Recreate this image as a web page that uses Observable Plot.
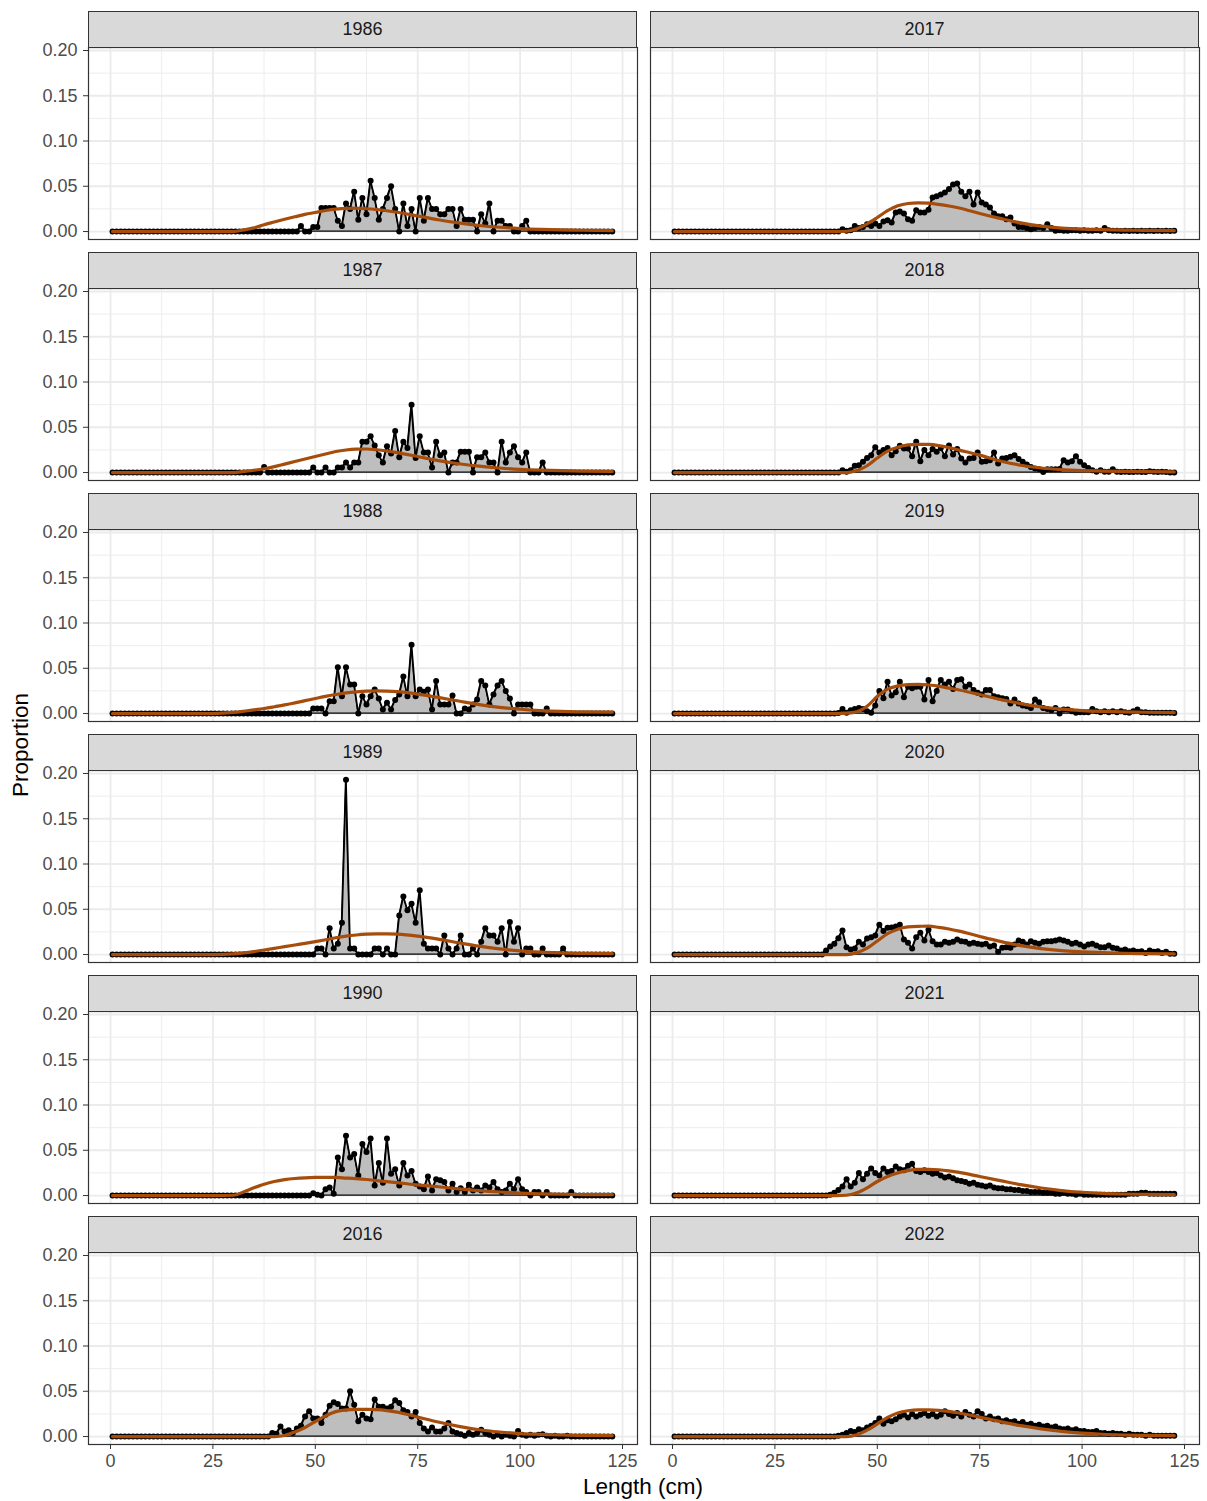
<!DOCTYPE html>
<html><head><meta charset="utf-8">
<script src="https://cdn.jsdelivr.net/npm/d3@7"></script>
<script src="https://cdn.jsdelivr.net/npm/@observablehq/plot@0.6"></script>
<style>
html,body{margin:0;padding:0;background:#fff;}
#fig{position:relative;width:1207px;height:1501px;font-family:"Liberation Sans",Arial,sans-serif;overflow:hidden;background:#fff}
.strip{position:absolute;background:#d9d9d9;border:1.1px solid #333;box-sizing:border-box;display:flex;align-items:center;justify-content:center;font-size:18px;color:#1a1a1a}
.panel{position:absolute}
.ytitle{position:absolute;left:21px;top:745px;transform:translate(-50%,-50%) rotate(-90deg);font-size:22.5px;color:#000;white-space:nowrap}
.xtitle{position:absolute;left:643px;top:1487px;transform:translate(-50%,-50%);font-size:22.5px;color:#000;white-space:nowrap}
</style></head><body><div id="fig"></div>
<script>
// ---- categories / ticks ----
const lengths = [0.5,1.5,2.5,3.5,4.5,5.5,6.5,7.5,8.5,9.5,10.5,11.5,12.5,13.5,14.5,15.5,16.5,17.5,18.5,19.5,20.5,21.5,22.5,23.5,24.5,25.5,26.5,27.5,28.5,29.5,30.5,31.5,32.5,33.5,34.5,35.5,36.5,37.5,38.5,39.5,40.5,41.5,42.5,43.5,44.5,45.5,46.5,47.5,48.5,49.5,50.5,51.5,52.5,53.5,54.5,55.5,56.5,57.5,58.5,59.5,60.5,61.5,62.5,63.5,64.5,65.5,66.5,67.5,68.5,69.5,70.5,71.5,72.5,73.5,74.5,75.5,76.5,77.5,78.5,79.5,80.5,81.5,82.5,83.5,84.5,85.5,86.5,87.5,88.5,89.5,90.5,91.5,92.5,93.5,94.5,95.5,96.5,97.5,98.5,99.5,100.5,101.5,102.5,103.5,104.5,105.5,106.5,107.5,108.5,109.5,110.5,111.5,112.5,113.5,114.5,115.5,116.5,117.5,118.5,119.5,120.5,121.5,122.5];
const fitLengths = [0.5,25,30,32.5,35,37.5,40,42.5,45,47.5,50,52.5,55,57.5,60,62.5,65,67.5,70,75,80,85,90,95,100,105,110,115,122.5];
const xTicks = [0,25,50,75,100,125];
const xMinor = [12.5,37.5,62.5,87.5,112.5];
const yTicks = [0,0.05,0.10,0.15,0.20];
const yMinor = [0.025,0.075,0.125,0.175];
const leftYears = ["1986","1987","1988","1989","1990","2016"];
const rightYears = ["2017","2018","2019","2020","2021","2022"];

// ---- observed proportions (one value per length bin) ----
const obs1986 = [0,0,0,0,0,0,0,0,0,0, 0,0,0,0,0,0,0,0,0,0, 0,0,0,0,0,0,0,0,0,0, 0,0,0,0,0,0,0,0,0,0,
 0,0,0,0,0,0,.006,0,0,.005,
 .005,.026,.026,.026,.026,.012,.006,.031,.025,.044,
 .013,.037,.019,.056,.037,.013,.025,.037,.050,.025,
 0,.031,.006,.025,0,.037,.012,.037,.025,.025,
 .019,.019,.025,.025,.006,.025,.013,.013,.013,0,
 .019,.009,.031,0,.012,.012,.006,.006,0,0,
 .006,.012,0,0,0,0,0,0,0,0,
 0,0,0,0,0,0,0,0,0,0, 0,0,0];
const obs1987 = [0,0,0,0,0,0,0,0,0,0, 0,0,0,0,0,0,0,0,0,0, 0,0,0,0,0,0,0,0,0,0,
 0,0,0,0,0,0,0,.006,0,0,
 0,0,0,0,0,0,0,0,0,.0055,
 0,0,.0055,0,0,.0055,.0055,.011,.0055,.011,
 .011,.034,.034,.040,.030,.019,.011,.029,.021,.046,
 .017,.034,.027,.075,.016,.040,.022,.022,.0055,.034,
 .019,.022,0,.011,.011,.023,.023,.023,0,.017,
 .017,.022,.011,.011,0,.034,.011,.022,.029,.017,
 .011,.022,0,0,0,.011,0,0,0,0,
 0,0,0,0,0,0,0,0,0,0, 0,0,0];
const obs1988 = [0,0,0,0,0,0,0,0,0,0, 0,0,0,0,0,0,0,0,0,0, 0,0,0,0,0,0,0,0,0,0, 0,0,0,0,0,0,0,0,0,0,
 0,0,0,0,0,0,0,0,0,.0055,
 .0055,.0055,0,.0135,.0135,.051,.019,.051,.032,.032,
 0,.019,.010,.019,.0265,.0165,.0045,.012,.0045,.015,
 .021,.041,.019,.076,.019,.0265,.024,.0265,.0045,.036,
 .010,.010,.010,.020,0,0,.0055,.0045,.010,.0155,
 .036,.031,.010,.021,.031,.036,.025,.0165,0,.010,
 .010,.010,.010,0,0,0,.0055,0,0,0,
 0,0,0,0,0,0,0,0,0,0, 0,0,0];
const obs1989 = [0,0,0,0,0,0,0,0,0,0, 0,0,0,0,0,0,0,0,0,0, 0,0,0,0,0,0,0,0,0,0, 0,0,0,0,0,0,0,0,0,0, 0,0,0,0,0,0,0,0,0,0,
 .0066,.0066,0,.029,.0066,.012,.035,.193,.0066,.0066,
 0,0,0,0,.0066,.0066,0,.0066,0,0,
 .043,.064,.049,.056,.035,.071,.012,.0066,.0066,.0066,
 0,.021,.0066,0,.0066,.021,0,0,.0066,0,
 .014,.029,.021,.021,.014,.029,0,.036,.014,.029,
 0,.0066,.0066,0,0,.0066,0,0,0,0,
 .0066,0,0,0,0,0,0,0,0,0, 0,0,0];
const obs1990 = [0,0,0,0,0,0,0,0,0,0, 0,0,0,0,0,0,0,0,0,0, 0,0,0,0,0,0,0,0,0,0, 0,0,0,0,0,0,0,0,0,0,
 0,0,0,0,0,0,0,0,0,.0026,
 .001,0,.007,.009,.002,.042,.029,.066,.042,.046,
 .022,.057,.048,.063,.011,.036,.014,.063,.024,.029,
 .011,.036,.022,.027,.013,.010,.007,.021,.0055,.018,
 .017,.015,.0055,.013,.004,.008,.004,.012,.0055,.009,
 .0055,.011,.009,.015,.007,.004,.0055,.013,.007,.018,
 .007,.004,0,.004,.004,0,.004,0,0,0,
 0,0,.004,0,0,0,0,0,0,0, 0,0,0];
const obs2016 = [0,0,0,0,0,0,0,0,0,0, 0,0,0,0,0,0,0,0,0,0, 0,0,0,0,0,0,0,0,0,0,
 0,0,0,0,0,0,0,0,0,.004,
 .003,.011,.0055,.007,.004,.009,.012,.022,.028,.020,
 .020,.015,.024,.034,.038,.036,.031,.031,.050,.035,
 .017,.024,.020,.019,.041,.033,.033,.031,.033,.040,
 .037,.029,.027,.022,.027,.015,.009,.0055,.010,.0055,
 .0055,.009,.015,.0055,.004,.0026,.001,.004,.002,.004,
 .0074,.004,.002,0,.002,0,.002,.001,0,.006,
 .002,.001,.002,.001,.002,.0026,.001,0,.001,0,
 0,.001,0,0,0,0,0,0,0,0, 0,0,0];
const obs2017 = [0,0,0,0,0,0,0,0,0,0, 0,0,0,0,0,0,0,0,0,0, 0,0,0,0,0,0,0,0,0,0, 0,0,0,0,0,0,0,0,0,0,
 0,.0026,.001,.0015,.006,.004,.005,.008,.006,.009,
 .006,.011,.0125,.010,.021,.022,.020,.0135,.012,.0235,
 .021,.021,.024,.0375,.039,.041,.043,.047,.052,.053,
 .044,.039,.044,.030,.043,.032,.030,.0265,.020,.017,
 .017,.0135,.0155,.009,.005,.005,.004,.0026,.004,.005,
 .004,.008,.004,.001,.0015,.001,.001,.0015,.0015,.001,
 .0015,.001,.001,.0015,.001,.004,.0015,.001,.001,.0005,
 .001,.0005,.001,.0005,.001,.0005,.001,.0005,.001,.0005,
 .001,.0005,.001];
const obs2018 = [0,0,0,0,0,0,0,0,0,0, 0,0,0,0,0,0,0,0,0,0, 0,0,0,0,0,0,0,0,0,0, 0,0,0,0,0,0,0,0,0,0,
 0,.0026,.001,.0026,.0074,.008,.012,.016,.019,.028,
 .022,.025,.027,.019,.0235,.0295,.0265,.0265,.018,.034,
 .0125,.025,.019,.026,.023,.027,.018,.030,.020,.026,
 .0155,.011,.0155,.016,.022,.012,.0125,.0135,.022,.010,
 .0155,.016,.0175,.019,.015,.012,.009,.006,.0044,.0037,
 .0007,.0037,.0037,.0037,.004,.0135,.011,.0125,.018,.012,
 .008,.005,.0026,.001,.0026,.001,.001,.0037,.001,.0005,
 .001,.0005,.0005,.001,.0005,.0005,.0015,.001,.0005,.001,
 .0005,0,0];
const obs2019 = [0,0,0,0,0,0,0,0,0,0, 0,0,0,0,0,0,0,0,0,0, 0,0,0,0,0,0,0,0,0,0, 0,0,0,0,0,0,0,0,0,0,
 .0007,.005,.001,.0037,.005,.006,.005,.0026,.001,.009,
 .025,.017,.035,.020,.0235,.035,.018,.0295,.028,.0295,
 .0295,.0155,.037,.0136,.025,.037,.032,.035,.027,.037,
 .038,.0295,.032,.026,.023,.021,.026,.026,.019,.018,
 .017,.016,.011,.0155,.011,.009,.008,.006,.0155,.0125,
 .006,.005,.0037,.006,0,.0044,.0044,.0026,.001,.0015,
 .0015,.0015,.005,.0026,.0015,.0026,.0015,.0026,.0015,.0026,
 .0015,.001,.0026,.0044,.0015,.0015,.001,.001,.001,.001,
 .001,.001,.0005];
const obs2020 = [0,0,0,0,0,0,0,0,0,0, 0,0,0,0,0,0,0,0,0,0, 0,0,0,0,0,0,0,0,0,0,
 0,0,0,0,0,0,0,.0044,.009,.012,
 .018,.0265,.008,.0055,.0066,.014,.011,.0177,.019,.021,
 .033,.026,.0295,.030,.031,.033,.0165,.013,.0066,.019,
 .024,.0155,.0275,.0147,.011,.011,.014,.013,.014,.0165,
 .0147,.014,.012,.013,.012,.011,.012,.009,.010,.003,
 .0074,.008,.0074,.011,.0155,.014,.011,.0147,.013,.012,
 .014,.0147,.0147,.0155,.0165,.0155,.014,.012,.013,.011,
 .009,.011,.012,.010,.008,.008,.010,.0074,.0066,.0044,
 .0055,.0037,.0044,.003,.0037,.0018,.0044,.003,.0037,.0018,
 .003,.001,.001];
const obs2021 = [0,0,0,0,0,0,0,0,0,0, 0,0,0,0,0,0,0,0,0,0, 0,0,0,0,0,0,0,0,0,0,
 0,0,0,0,0,0,0,0,.001,.003,
 .006,.010,.018,.010,.014,.025,.018,.024,.030,.025,
 .022,.030,.026,.027,.032,.029,.028,.033,.035,.027,
 .026,.028,.026,.024,.025,.022,.020,.021,.019,.017,
 .016,.015,.013,.014,.012,.011,.010,.011,.009,.008,
 .008,.007,.007,.006,.006,.005,.005,.004,.004,.004,
 .003,.003,.003,.002,.002,.003,.002,.002,.001,.002,
 .001,.001,.001,.001,.001,.001,.001,.001,.001,.001,
 .001,.002,.002,.002,.003,.003,.002,.002,.002,.002,
 .002,.002,.002];
const obs2022 = [0,0,0,0,0,0,0,0,0,0, 0,0,0,0,0,0,0,0,0,0, 0,0,0,0,0,0,0,0,0,0, 0,0,0,0,0,0,0,0,0,0,
 .001,.002,.004,.006,.005,.008,.007,.010,.012,.015,
 .020,.014,.018,.017,.019,.022,.024,.021,.025,.022,
 .024,.026,.023,.025,.022,.024,.028,.025,.023,.026,
 .022,.027,.024,.022,.028,.025,.020,.022,.019,.020,
 .017,.018,.016,.017,.014,.016,.013,.014,.012,.013,
 .011,.012,.010,.011,.009,.008,.009,.007,.008,.006,
 .006,.005,.005,.006,.004,.004,.003,.004,.003,.003,
 .002,.003,.002,.002,.002,.001,.002,.001,.001,.001,
 .001,.001,.001];

// ---- fitted proportions at fitLengths ----
const fit1986 = [0,0,0, .0018,.004,.0075,.0105,.0135,.0163,.019,.021,.0232,.0248,.0256,.0257,.0252,.0243,.023,.0213, .0172,.013,.0095,.0067,.0047,.0033,.0024,.0018,.0014,.001];
const fit1987 = [0,0,0, .0012,.0025,.0042,.0065,.0093,.0122,.015,.0177,.0205,.0232,.0249,.0258,.026,.0252,.0238,.022, .0177,.0132,.0097,.007,.005,.0035,.0026,.002,.0016,.0012];
const fit1988 = [0,0,.0012, .0025,.004,.0056,.0075,.0095,.0118,.0142,.0166,.019,.021,.0228,.024,.0248,.025,.0248,.0242, .0215,.0178,.0138,.0099,.0069,.0047,.0032,.0023,.0018,.0015];
const fit1989 = [0,0,.0008, .0019,.0033,.005,.0068,.0087,.0105,.0123,.0142,.0163,.0185,.0203,.0216,.0225,.0229,.0229,.0225, .0203,.017,.013,.0092,.0062,.004,.0026,.0018,.0013,.001];
const fit1990 = [0,0,.0003, .004,.0085,.0125,.0155,.0175,.0188,.0196,.020,.0201,.020,.0193,.0186,.0177,.0165,.0153,.0142, .0117,.0097,.0074,.0054,.0039,.0027,.0019,.0014,.0011,.001];
const fit2016 = [0,0,0, 0,0,0,0,.0012,.005,.010,.0166,.0228,.0275,.0295,.030,.030,.0297,.0287,.027, .0215,.016,.0113,.0075,.005,.0033,.0024,.0017,.0013,.0011];
const fit2017 = [0,0,0, 0,0,0,0,.0003,.003,.0085,.0155,.023,.0284,.031,.0317,.0314,.030,.0282,.026, .020,.0145,.0095,.006,.0038,.0026,.002,.0016,.0013,.001];
const fit2018 = [0,0,0, 0,0,0,0,0,.0022,.0075,.016,.0236,.028,.0305,.0312,.031,.0298,.0276,.0248, .0192,.0128,.0081,.005,.0032,.0022,.0016,.0012,.001,.0007];
const fit2019 = [0,0,0, 0,0,0,0,.0004,.002,.008,.019,.027,.0305,.032,.0322,.0315,.0302,.028,.026, .021,.0156,.011,.0073,.0048,.0033,.0024,.0018,.0014,.0011];
const fit2020 = [0,0,0, 0,0,0,0,0,.002,.007,.015,.023,.028,.0305,.0312,.0313,.030,.0282,.0258, .020,.0145,.0098,.0065,.0043,.003,.002,.0014,.001,.0007];
const fit2021 = [0,0,0, 0,0,0,0,.0003,.003,.0085,.0155,.021,.025,.0275,.0288,.029,.0285,.0272,.0255, .021,.0165,.012,.0083,.0055,.0036,.0024,.0017,.0013,.001];
const fit2022 = [0,0,0, 0,0,0,0,0,.002,.007,.014,.021,.026,.0285,.0295,.0295,.029,.0278,.026, .0215,.0165,.012,.0085,.0058,.0038,.0025,.0017,.0012,.0009];

const obsByYear = {"1986":obs1986,"1987":obs1987,"1988":obs1988,"1989":obs1989,"1990":obs1990,"2016":obs2016,
  "2017":obs2017,"2018":obs2018,"2019":obs2019,"2020":obs2020,"2021":obs2021,"2022":obs2022};
const fitByYear = {"1986":fit1986,"1987":fit1987,"1988":fit1988,"1989":fit1989,"1990":fit1990,"2016":fit2016,
  "2017":fit2017,"2018":fit2018,"2019":fit2019,"2020":fit2020,"2021":fit2021,"2022":fit2022};

// ---- layout ----
const FIT_COLOR = "#a64d0c";
const FONT = "Liberation Sans, Arial, sans-serif";
const fig = document.getElementById("fig");
const ROW_PITCH = 241, STRIP_TOP = 11, STRIP_H = 36, PANEL_H = 192;
const colFrameLeft = [88, 650], FRAME_W = 549;

function makePanel(year, row, col) {
  const obs = obsByYear[year].map((p, i) => ({len: lengths[i], p}));
  const fit = fitByYear[year].map((p, i) => ({len: fitLengths[i], p}));
  const isLeft = col === 0, isBottom = row === 5;
  const ML = isLeft ? 88 : 10, MR = 8, MT = 1, MB = isBottom ? 38 : 2;
  const marks = [
    Plot.gridX(xMinor, {stroke: "#ebebeb", strokeOpacity: 1, strokeWidth: 0.9}),
    Plot.gridY(yMinor, {stroke: "#ebebeb", strokeOpacity: 1, strokeWidth: 0.9}),
    Plot.gridX(xTicks, {stroke: "#ebebeb", strokeOpacity: 1, strokeWidth: 1.8}),
    Plot.gridY(yTicks, {stroke: "#ebebeb", strokeOpacity: 1, strokeWidth: 1.8}),
    Plot.areaY(obs, {x: "len", y: "p", fill: "#bebebe", stroke: "black", strokeWidth: 1.2}),
    Plot.line(obs, {x: "len", y: "p", stroke: "black", strokeWidth: 1.6}),
    Plot.dot(obs, {x: "len", y: "p", r: 3, fill: "black", stroke: "none"}),
    Plot.line(fit, {x: "len", y: "p", stroke: FIT_COLOR, strokeWidth: 3.2, curve: "monotone-x"}),
    Plot.frame({stroke: "#333333", strokeWidth: 1.2})
  ];
  if (isLeft) marks.push(Plot.axisY(yTicks, {tickFormat: d3.format(".2f"), tickSize: 5, tickPadding: 6, stroke: "#333333", fill: "#4d4d4d", fontSize: 18, label: null}));
  if (isBottom) marks.push(Plot.axisX(xTicks, {tickFormat: d => String(d), tickSize: 5, tickPadding: 5, stroke: "#333333", fill: "#4d4d4d", fontSize: 18, label: null}));
  const svg = Plot.plot({
    width: ML + FRAME_W + MR, height: MT + PANEL_H + MB,
    marginLeft: ML, marginRight: MR, marginTop: MT, marginBottom: MB,
    x: {domain: [-5.37, 128.66]},
    y: {domain: [-0.0088, 0.2033]},
    axis: null,
    style: {fontFamily: FONT, fontSize: "18px", background: "transparent", overflow: "visible"},
    marks
  });
  svg.classList.add("panel");
  svg.style.left = (colFrameLeft[col] - ML) + "px";
  svg.style.top = (STRIP_TOP + STRIP_H + row * ROW_PITCH - MT) + "px";
  fig.appendChild(svg);

  const strip = document.createElement("div");
  strip.className = "strip";
  strip.style.left = colFrameLeft[col] + "px";
  strip.style.top = (STRIP_TOP + row * ROW_PITCH) + "px";
  strip.style.width = FRAME_W + "px";
  strip.style.height = (STRIP_H + 0.5) + "px";
  strip.textContent = year;
  fig.appendChild(strip);
}

leftYears.forEach((y, r) => makePanel(y, r, 0));
rightYears.forEach((y, r) => makePanel(y, r, 1));

const yt = document.createElement("div"); yt.className = "ytitle"; yt.textContent = "Proportion"; fig.appendChild(yt);
const xt = document.createElement("div"); xt.className = "xtitle"; xt.textContent = "Length (cm)"; fig.appendChild(xt);
</script></body></html>
